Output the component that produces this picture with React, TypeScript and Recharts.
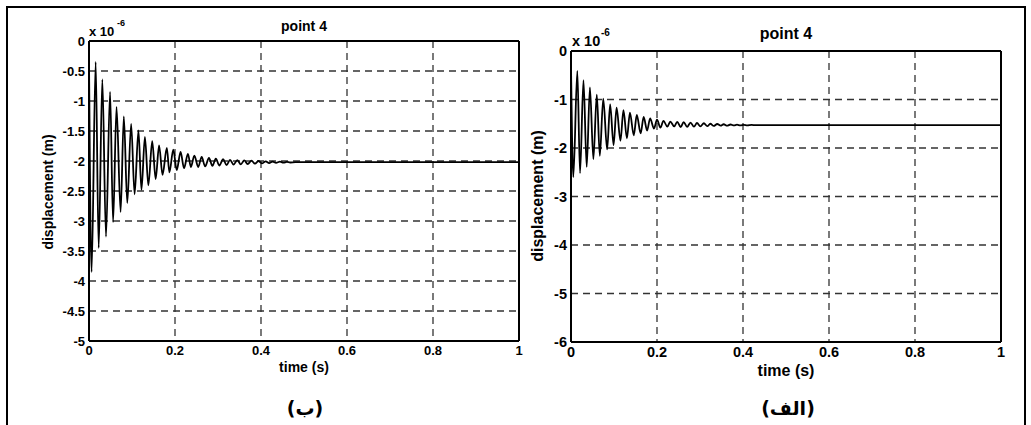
import React from 'react';
import { LineChart, Line, XAxis, YAxis, CartesianGrid, ReferenceLine } from 'recharts';

// Panel (ب) – left
const LEFT_TIME = [0, 0.006, 0.0155, 0.0225, 0.031, 0.0395, 0.049, 0.056, 0.064, 0.0735, 0.081, 0.089, 0.098, 0.106, 0.115, 0.122, 0.13, 0.138, 0.147, 0.155, 0.163, 0.171, 0.181, 0.187, 0.196, 0.204, 0.213, 0.221, 0.23, 0.237, 0.245, 0.254, 0.262, 0.27, 0.279, 0.287, 0.295, 0.303, 0.312, 0.32, 0.328, 0.336, 0.345, 0.353, 0.361, 0.369, 0.378, 0.386, 0.394, 0.402, 0.411, 0.419, 0.427, 0.435, 0.444, 0.452, 0.46, 0.468, 0.48, 1.0];
const LEFT_DISP = [-0.3, -3.85, -0.35, -3.45, -0.64, -3.26, -0.85, -3.02, -1.1, -2.85, -1.255, -2.7, -1.38, -2.555, -1.49, -2.48, -1.6, -2.405, -1.67, -2.3, -1.74, -2.23, -1.78, -2.19, -1.81, -2.15, -1.85, -2.12, -1.88, -2.1, -1.91, -2.1, -1.93, -2.09, -1.95, -2.08, -1.96, -2.075, -1.97, -2.07, -1.98, -2.06, -1.985, -2.055, -1.99, -2.05, -1.995, -2.045, -2.0, -2.04, -2.005, -2.035, -2.01, -2.03, -2.012, -2.028, -2.015, -2.025, -2.02, -2.02];

// Panel (الف) – right
const RIGHT_TIME = [0, 0.0054, 0.0147, 0.021, 0.029, 0.0365, 0.044, 0.052, 0.06, 0.067, 0.075, 0.084, 0.091, 0.099, 0.106, 0.115, 0.122, 0.13, 0.137, 0.146, 0.153, 0.162, 0.169, 0.177, 0.184, 0.193, 0.2, 0.208, 0.215, 0.224, 0.231, 0.24, 0.247, 0.255, 0.262, 0.27, 0.278, 0.286, 0.293, 0.301, 0.309, 0.317, 0.324, 0.332, 0.34, 0.348, 0.355, 0.363, 0.371, 0.379, 0.386, 0.394, 0.402, 0.41, 0.42, 0.43, 1.0];
const RIGHT_DISP = [-0.3, -2.6, -0.41, -2.52, -0.6, -2.39, -0.75, -2.23, -0.9, -2.16, -0.98, -2.03, -1.1, -1.94, -1.17, -1.85, -1.22, -1.8, -1.27, -1.74, -1.32, -1.7, -1.36, -1.64, -1.39, -1.6, -1.415, -1.58, -1.44, -1.56, -1.455, -1.555, -1.46, -1.57, -1.465, -1.565, -1.475, -1.56, -1.485, -1.555, -1.49, -1.55, -1.5, -1.545, -1.505, -1.54, -1.51, -1.54, -1.515, -1.535, -1.52, -1.535, -1.522, -1.532, -1.525, -1.53, -1.53];

const X_TICKS = [0, 0.2, 0.4, 0.6, 0.8, 1];
const LEFT_Y_TICKS = [0, -0.5, -1, -1.5, -2, -2.5, -3, -3.5, -4, -4.5, -5];
const RIGHT_Y_TICKS = [0, -1, -2, -3, -4, -5, -6];

const leftData = LEFT_TIME.map((t, i) => ({ t, v: LEFT_DISP[i] }));
const rightData = RIGHT_TIME.map((t, i) => ({ t, v: RIGHT_DISP[i] }));

const FONT = '"Liberation Sans", Arial, Helvetica, sans-serif';

const Txt = ({ x, y, size, children, rotate = 0, anchor = 'center', family = FONT, dir }: any) => (
  <div
    dir={dir}
    style={{
      position: 'absolute',
      left: x,
      top: y,
      transform: `translate(${anchor === 'center' ? '-50%' : '0'}, -50%) rotate(${rotate}deg)`,
      fontFamily: family,
      fontWeight: 'bold',
      fontSize: size,
      lineHeight: 1,
      whiteSpace: 'nowrap',
      color: '#000',
    }}
  >
    {children}
  </div>
);

const Panel = ({ data, yTicks, yDomain, tickSize, margin, yWidth, width }: any) => (
  <LineChart width={width} height={425} data={data} margin={margin}>
    <CartesianGrid stroke="#333" strokeWidth={1.3} strokeDasharray="7 5" />
    <XAxis
      dataKey="t"
      type="number"
      domain={[0, 1]}
      ticks={X_TICKS}
      allowDataOverflow
      height={30}
      tickSize={0}
      tickMargin={5}
      axisLine={{ stroke: '#000', strokeWidth: 2 }}
      tickLine={false}
      tick={{ fontSize: tickSize, fontWeight: 'bold', fill: '#000', fontFamily: FONT }}
      interval={0}
    />
    <YAxis
      type="number"
      domain={yDomain}
      ticks={yTicks}
      allowDataOverflow
      width={yWidth}
      tickSize={0}
      tickMargin={4}
      axisLine={{ stroke: '#000', strokeWidth: 2 }}
      tickLine={false}
      tick={{ fontSize: tickSize, fontWeight: 'bold', fill: '#000', fontFamily: FONT }}
      interval={0}
    />
    <ReferenceLine y={0} stroke="#000" strokeWidth={2} />
    <ReferenceLine x={1} stroke="#000" strokeWidth={2} />
    <Line dataKey="v" type="monotone" stroke="#000" strokeWidth={1.8} dot={false} isAnimationActive={false} />
  </LineChart>
);

export default function App() {
  return (
    <div style={{ position: 'absolute', left: 0, top: 0, width: 1031, height: 425, background: '#fff', overflow: 'hidden' }}>
      <div style={{ position: 'absolute', left: 6, top: 6, width: 1016, height: 440, border: '2px solid #000' }} />
      <div style={{ position: 'absolute', left: 0, top: 0 }}>
        <Panel
          data={leftData}
          yTicks={LEFT_Y_TICKS}
          yDomain={[-5, 0]}
          tickSize={13}
          width={530}
          yWidth={60}
          margin={{ top: 41, right: 11, bottom: 54, left: 29 }}
        />
      </div>
      <div style={{ position: 'absolute', left: 520, top: 0 }}>
        <Panel
          data={rightData}
          yTicks={RIGHT_Y_TICKS}
          yDomain={[-6, 0]}
          tickSize={14.5}
          width={511}
          yWidth={40}
          margin={{ top: 51, right: 30, bottom: 53, left: 11 }}
        />
      </div>

      {/* left panel texts */}
      <Txt x={304} y={26} size={14}>point 4</Txt>
      <Txt x={89} y={31} size={13} anchor="left">x 10</Txt>
      <Txt x={117} y={23} size={9} anchor="left">-6</Txt>
      <Txt x={48} y={192} size={14} rotate={-90}>displacement (m)</Txt>
      <Txt x={304} y={367} size={14}>time (s)</Txt>
      <Txt x={305} y={408} size={19} family='"DejaVu Sans", sans-serif' dir="rtl">(ب)</Txt>

      {/* right panel texts */}
      <Txt x={786} y={34} size={16}>point 4</Txt>
      <Txt x={572} y={41} size={14.5} anchor="left">x 10</Txt>
      <Txt x={601} y={33} size={10} anchor="left">-6</Txt>
      <Txt x={538} y={196} size={16} rotate={-90}>displacement (m)</Txt>
      <Txt x={786} y={371} size={16}>time (s)</Txt>
      <Txt x={788} y={408} size={19} family='"DejaVu Sans", sans-serif' dir="rtl">(الف)</Txt>
    </div>
  );
}
